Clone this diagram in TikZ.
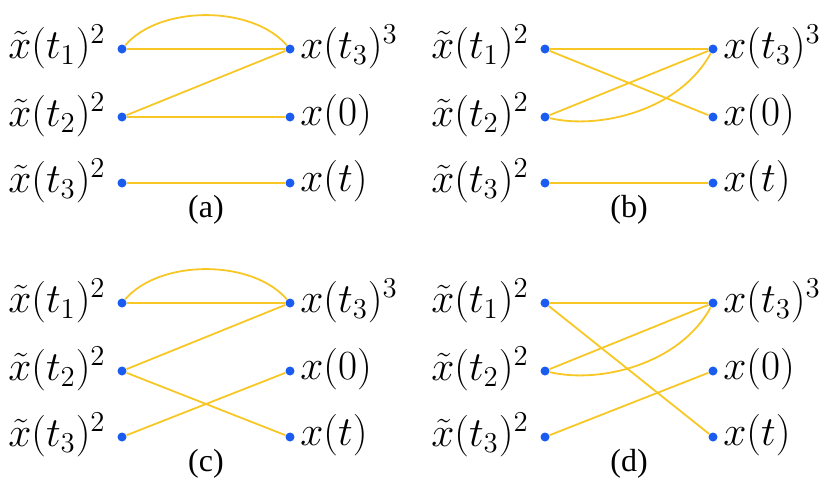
\documentclass[tikz,border=0pt]{standalone}
\usepackage{fontspec}
\setmainfont{Liberation Serif}
\begin{document}
\begin{tikzpicture}[x=0.5pt,y=-0.5pt,
  dot/.style={circle,fill=dotblue,inner sep=0pt,minimum size=4.5pt},
  edge/.style={draw=lineyellow,line width=0.9pt},
  lab/.style={font=\fontsize{19.5}{22}\selectfont,inner sep=0pt},
  caplab/.style={font=\fontsize{16}{19}\selectfont,inner sep=0pt}]
\definecolor{dotblue}{HTML}{1A5CF0}
\definecolor{lineyellow}{HTML}{F7C825}
\useasboundingbox (0,0) rectangle (831,488);
\foreach \p/\ox/\oy in {a/0/0,b/423/0,c/0/254,d/423/254}{
  \begin{scope}[shift={(\ox,\oy)}]
  \node[dot] (\p L1) at (122,49) {};
  \node[dot] (\p L2) at (122,117) {};
  \node[dot] (\p L3) at (122,183) {};
  \node[dot] (\p R1) at (290,49) {};
  \node[dot] (\p R2) at (290,117) {};
  \node[dot] (\p R3) at (290,183) {};
  \node[lab,anchor=east] (\p l1) at (106,47) {$\tilde{x}(t_1)^2$};
  \node[lab,anchor=east] (\p l2) at (106,115) {$\tilde{x}(t_2)^2$};
  \node[lab,anchor=east] (\p l3) at (106,181) {$\tilde{x}(t_3)^2$};
  \node[lab,anchor=west] (\p r1) at (300,47) {$x(t_3)^3$};
  \node[lab,anchor=west] (\p r2) at (300,115) {$x(0)$};
  \node[lab,anchor=west] (\p r3) at (300,181) {$x(t)$};
  \node[caplab] (\p cap) at (206,210) {(\p)};
  \end{scope}}
% (a)
\draw[edge] (aL1) -- (aR1);
\draw[edge] (aL1) .. controls (160,5) and (252,5) .. (aR1);
\draw[edge] (aL2) -- (aR1);
\draw[edge] (aL2) -- (aR2);
\draw[edge] (aL3) -- (aR3);
% (b)
\draw[edge] (bL1) -- (bR1);
\draw[edge] (bL1) -- (bR2);
\draw[edge] (bL2) -- (bR1);
\draw[edge] (bL2) .. controls (600,130) and (680,110) .. (bR1);
\draw[edge] (bL3) -- (bR3);
% (c)
\draw[edge] (cL1) -- (cR1);
\draw[edge] (cL1) .. controls (160,259) and (252,259) .. (cR1);
\draw[edge] (cL2) -- (cR1);
\draw[edge] (cL2) -- (cR3);
\draw[edge] (cL3) -- (cR2);
% (d)
\draw[edge] (dL1) -- (dR1);
\draw[edge] (dL1) -- (dR3);
\draw[edge] (dL2) -- (dR1);
\draw[edge] (dL2) .. controls (600,384) and (680,364) .. (dR1);
\draw[edge] (dL3) -- (dR2);
\end{tikzpicture}
\end{document}
